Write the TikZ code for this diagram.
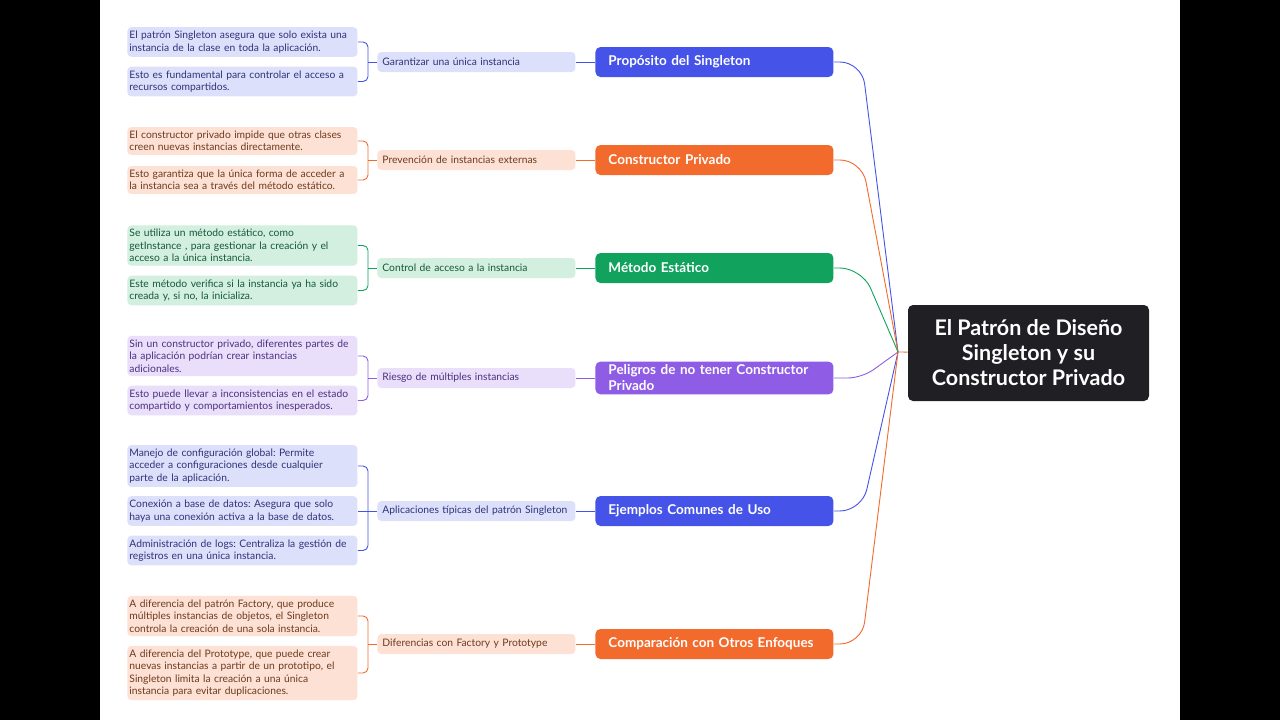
\documentclass[tikz,border=0pt]{standalone}
\usepackage{fontspec}
\setmainfont{Lato}
\frenchspacing
\hyphenpenalty=10000
\usetikzlibrary{positioning}
\definecolor{blueM}{HTML}{4553E8}
\definecolor{blueL}{HTML}{DDE0FB}
\definecolor{blueT}{HTML}{2E3378}
\definecolor{orangeM}{HTML}{F26B2C}
\definecolor{orangeL}{HTML}{FCE1D4}
\definecolor{orangeT}{HTML}{6E3A1F}
\definecolor{greenM}{HTML}{11A35E}
\definecolor{greenL}{HTML}{D2EFDF}
\definecolor{greenT}{HTML}{17573A}
\definecolor{purpleM}{HTML}{8F5CE6}
\definecolor{purpleL}{HTML}{E9DFFA}
\definecolor{purpleT}{HTML}{4B2F80}
\definecolor{rootbg}{HTML}{202024}

\begin{document}
\begin{tikzpicture}[x=1pt,y=-1pt,line width=0.9pt,
	detail/.style={rounded corners=4pt,anchor=west,text width=226pt,align=left,inner xsep=2pt,inner ysep=4pt,font=\fontsize{10.3}{12.3}\selectfont},
	topic/.style={rounded corners=4pt,anchor=west,text width=188pt,minimum height=20pt,align=left,inner xsep=5pt,font=\fontsize{10.3}{12}\selectfont},
	main/.style={rounded corners=5pt,anchor=west,text width=212pt,minimum height=30pt,align=left,inner xsep=13pt,text=white,font=\bfseries\fontsize{13.5}{16}\selectfont},
	gblue/.style={fill=blueL,text=blueT},
	gorange/.style={fill=orangeL,text=orangeT},
	ggreen/.style={fill=greenL,text=greenT},
	gpurple/.style={fill=purpleL,text=purpleT}]
	%\draw[help lines] (0,0) grid[step=40] (1280,720);
	%BACKGROUND
	\fill[black] (0,0) rectangle (1280,720);
	\fill[white] (100,0) rectangle (1180,720);
	\useasboundingbox (0,0) rectangle (1280,720);
	\coordinate (bx) at (368,0);
	\coordinate (hub) at (898,352);
	
	%ROOT
	\node[fill=rootbg,rounded corners=5pt,minimum width=241pt,minimum height=96pt,align=center,text=white,font=\bfseries\fontsize{21.5}{25}\selectfont] (root) at (1028.5,353) {El Patrón de Diseño\\Singleton y su\\Constructor Privado};
	
	%MAIN TOPICS
	\node[main,fill=blueM] (t1) at (595,62) {Propósito del Singleton};
	\node[main,fill=orangeM] (t2) at (595,160) {Constructor Privado};
	\node[main,fill=greenM] (t3) at (595,268) {Método Estático};
	\node[main,fill=purpleM] (t4) at (595,378) {Peligros de no tener Constructor\\Privado};
	\node[main,fill=blueM] (t5) at (595,511) {Ejemplos Comunes de Uso};
	\node[main,fill=orangeM] (t6) at (595,644) {Comparación con Otros Enfoques};
	
	%SUBTOPICS
	\node[topic,gblue] (m1) at (377,62) {Garantizar una única instancia};
	\node[topic,gorange] (m2) at (377,160) {Prevención de instancias externas};
	\node[topic,ggreen] (m3) at (377,268) {Control de acceso a la instancia};
	\node[topic,gpurple] (m4) at (377,378) {Riesgo de múltiples instancias};
	\node[topic,gblue] (m5) at (377,511) {Aplicaciones típicas del patrón Singleton};
	\node[topic,gorange] (m6) at (377,644) {Diferencias con Factory y Prototype};
	
	%DETAILS
	\node[detail,gblue] (d1a) at (127,42) {El patrón Singleton asegura que solo exista una\\instancia de la clase en toda la aplicación.};
	\node[detail,gblue] (d1b) at (127,81.5) {Esto es fundamental para controlar el acceso a\\recursos compartidos.};
	\node[detail,gorange] (d2a) at (127,141) {El constructor privado impide que otras clases\\creen nuevas instancias directamente.};
	\node[detail,gorange] (d2b) at (127,180) {Esto garantiza que la única forma de acceder a\\la instancia sea a través del método estático.};
	\node[detail,ggreen] (d3a) at (127,245.5) {Se utiliza un método estático, como\\getInstance , para gestionar la creación y el\\acceso a la única instancia.};
	\node[detail,ggreen] (d3b) at (127,290.5) {Este método verifica si la instancia ya ha sido\\creada y, si no, la inicializa.};
	\node[detail,gpurple] (d4a) at (127,356) {Sin un constructor privado, diferentes partes de\\la aplicación podrían crear instancias\\adicionales.};
	\node[detail,gpurple] (d4b) at (127,400.5) {Esto puede llevar a inconsistencias en el estado\\compartido y comportamientos inesperados.};
	\node[detail,gblue] (d5a) at (127,466) {Manejo de configuración global: Permite\\acceder a configuraciones desde cualquier\\parte de la aplicación.};
	\node[detail,gblue] (d5b) at (127,511) {Conexión a base de datos: Asegura que solo\\haya una conexión activa a la base de datos.};
	\node[detail,gblue] (d5c) at (127,550.5) {Administración de logs: Centraliza la gestión de\\registros en una única instancia.};
	\node[detail,gorange] (d6a) at (127,616) {A diferencia del patrón Factory, que produce\\múltiples instancias de objetos, el Singleton\\controla la creación de una sola instancia.};
	\node[detail,gorange] (d6b) at (127,673) {A diferencia del Prototype, que puede crear\\nuevas instancias a partir de un prototipo, el\\Singleton limita la creación a una única\\instancia para evitar duplicaciones.};
	
	%BRACKETS
	\draw[blueM,rounded corners=5pt] (d1a.east) -| (bx |- m1.west) |- (d1b.east);
	\draw[blueM] (bx |- m1.west) -- (m1.west);
	\draw[orangeM,rounded corners=5pt] (d2a.east) -| (bx |- m2.west) |- (d2b.east);
	\draw[orangeM] (bx |- m2.west) -- (m2.west);
	\draw[greenM,rounded corners=5pt] (d3a.east) -| (bx |- m3.west) |- (d3b.east);
	\draw[greenM] (bx |- m3.west) -- (m3.west);
	\draw[purpleM,rounded corners=5pt] (d4a.east) -| (bx |- m4.west) |- (d4b.east);
	\draw[purpleM] (bx |- m4.west) -- (m4.west);
	\draw[blueM,rounded corners=5pt] (d5a.east) -| (bx |- m5.west) |- (d5c.east);
	\draw[blueM] (d5b.east) -- (m5.west);
	\draw[orangeM,rounded corners=5pt] (d6a.east) -| (bx |- m6.west) |- (d6b.east);
	\draw[orangeM] (bx |- m6.west) -- (m6.west);
	
	%SUBTOPIC TO MAIN
	\draw[blueM] (m1) -- (t1);
	\draw[orangeM] (m2) -- (t2);
	\draw[greenM] (m3) -- (t3);
	\draw[purpleM] (m4) -- (t4);
	\draw[blueM] (m5) -- (t5);
	\draw[orangeM] (m6) -- (t6);
	
	%MAIN TO ROOT
	\draw[blueM,rounded corners=22pt] (t1.east) -- ++(28,0) -- (hub);
	\draw[orangeM,rounded corners=22pt] (t2.east) -- ++(28,0) -- (hub);
	\draw[greenM,rounded corners=22pt] (t3.east) -- ++(28,0) -- (hub);
	\draw[purpleM,rounded corners=14pt] (t4.east) -- ++(28,0) -- (hub);
	\draw[blueM,rounded corners=22pt] (t5.east) -- ++(28,0) -- (hub);
	\draw[orangeM,rounded corners=22pt] (t6.east) -- ++(28,0) -- (hub);
	\draw[orangeM] (hub) -- (root);
	
\end{tikzpicture}
\end{document}
